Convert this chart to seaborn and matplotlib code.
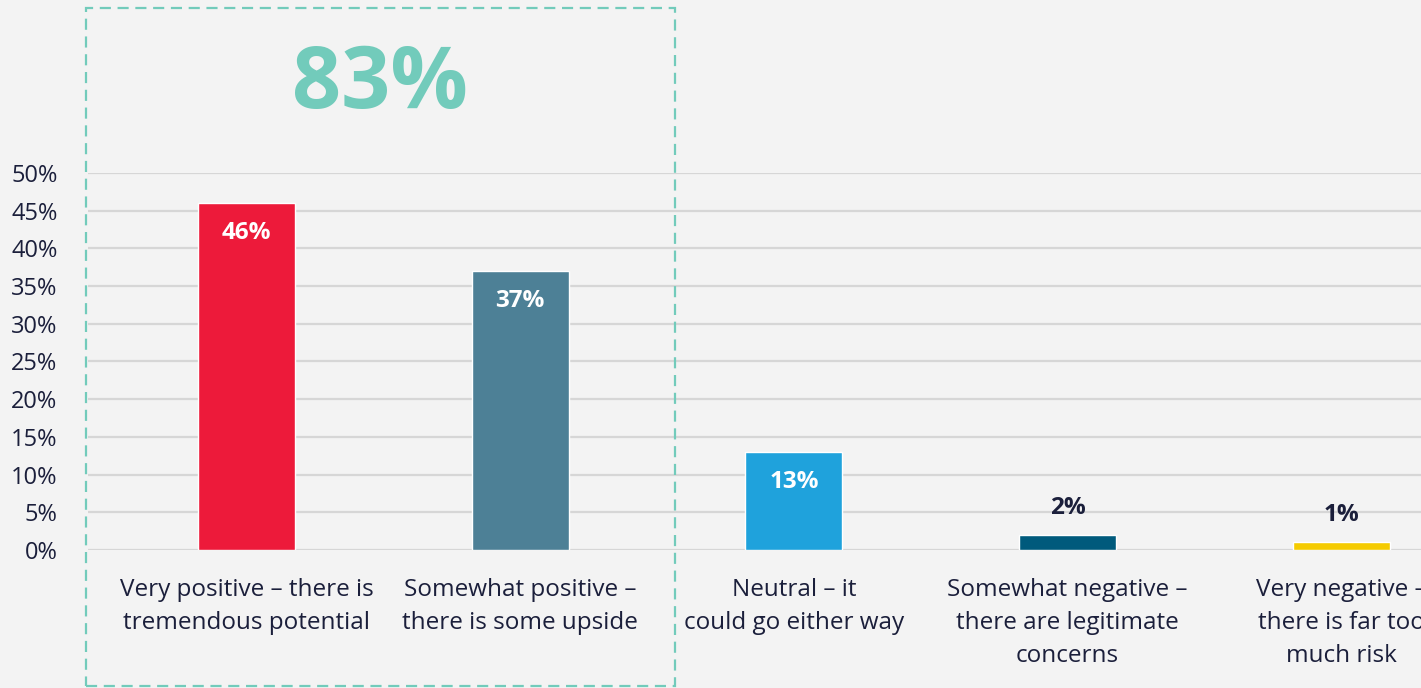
import matplotlib
matplotlib.use("Agg")
import matplotlib.pyplot as plt
from matplotlib.patches import Rectangle
import seaborn as sns
import pandas as pd

categories = [
    "Very positive – there is\ntremendous potential",
    "Somewhat positive –\nthere is some upside",
    "Neutral – it\ncould go either way",
    "Somewhat negative –\nthere are legitimate\nconcerns",
    "Very negative –\nthere is far too\nmuch risk",
]
values = [46, 37, 13, 2, 1]
bar_labels = ["46%", "37%", "13%", "2%", "1%"]
colors = ["#ed1a3a", "#4d8096", "#1fa2dc", "#005a7c", "#f5cb00"]
yticks = [0, 5, 10, 15, 20, 25, 30, 35, 40, 45, 50]
positive_total = "83%"

sns.set_theme(style="white")
plt.rcParams["font.family"] = ["Open Sans", "DejaVu Sans"]

BG = "#f3f3f3"
TEXT = "#1b1f3b"
ACCENT = "#72cbbb"

fig = plt.figure(figsize=(14.21, 6.88), dpi=100)
fig.patch.set_facecolor(BG)
ax = fig.add_axes([0.0619, 0.2006, 0.9381, 0.548])
ax.set_facecolor("none")

df = pd.DataFrame({"category": categories, "value": values})
sns.barplot(data=df, x="category", y="value", hue="category",
            palette=colors, legend=False, width=0.355, saturation=1,
            ax=ax, zorder=3)

ax.set_ylim(0, 50)
ax.set_xlim(-0.58, 4.292)
ax.set_yticks(yticks)
ax.set_yticklabels([f"{t}%" for t in yticks], fontsize=17, color=TEXT)
ax.tick_params(axis="y", length=0, pad=22)
ax.tick_params(axis="x", length=0, pad=20)
ax.set_xticks(range(len(categories)))
ax.set_xticklabels(categories, fontsize=17.5, color=TEXT, linespacing=1.5,
                   va="top", ha="center")
ax.set_xlabel("")
ax.set_ylabel("")
for lab in ax.get_yticklabels():
    lab.set_horizontalalignment("right")

for t in yticks:
    ax.axhline(t, color="#d6d6d6", lw=1.6, zorder=1)
for s in ax.spines.values():
    s.set_visible(False)

# value labels: inside the tall bars, above the short ones
for i, (v, lab) in enumerate(zip(values, bar_labels)):
    if v >= 10:
        ax.text(i, v - 4, lab, ha="center", va="center", fontsize=17.5,
                fontweight="bold", color="white", zorder=4)
    else:
        ax.text(i, v + 3.6, lab, ha="center", va="center", fontsize=17.5,
                fontweight="bold", color=TEXT, zorder=4)

# dashed frame around the positive answers
fig.patches.append(Rectangle((0.0605, 0.0029), 0.4145, 0.9855,
                             transform=fig.transFigure, fill=False,
                             edgecolor=ACCENT, lw=1.6,
                             linestyle=(0, (5, 3)), zorder=0))
fig.text(0.2675, 0.876, positive_total, ha="center", va="center",
         fontsize=62, fontweight="bold", color=ACCENT)

fig.savefig("out.png", dpi=100, facecolor=BG)
